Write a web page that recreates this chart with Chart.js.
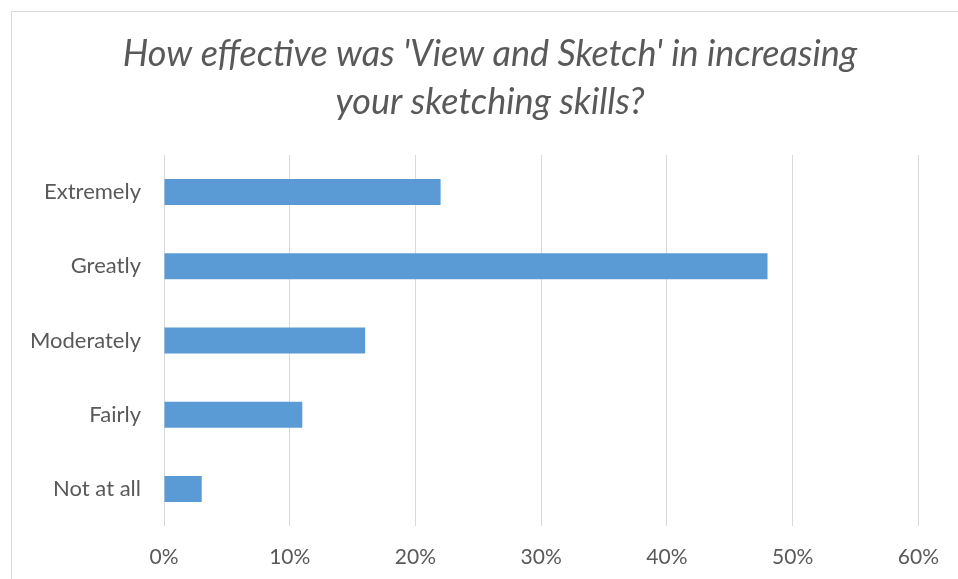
<!DOCTYPE html>
<html>
<head>
<meta charset="utf-8">
<script src="https://cdn.jsdelivr.net/npm/chart.js@4"></script>
<style>
  html, body { margin: 0; padding: 0; background: #fff; }
  #wrap { position: relative; width: 958px; height: 579px; }
</style>
</head>
<body>
<div id="wrap"><canvas id="chart"></canvas></div>
<script>
const categories = ['Extremely', 'Greatly', 'Moderately', 'Fairly', 'Not at all'];
const shares = [22, 48, 16, 11, 3];      // percent of answers
const titleLines = ["How effective was 'View and Sketch' in increasing", 'your sketching skills?'];

const textColor = '#595959';
const gridColor = '#d9d9d9';
const fontFamily = 'Lato, "Open Sans", sans-serif';

// thin frame around the chart object, runs off the right and bottom edges
const frame = {
    id: 'frame',
    afterLayout(chart) {
        // centre the title on the frame rather than the canvas
        if (chart.titleBlock) chart.titleBlock.left = 59;
    },
    beforeDraw(chart) {
        const ctx = chart.ctx;
        ctx.save();
        ctx.strokeStyle = gridColor;
        ctx.lineWidth = 1;
        ctx.strokeRect(11.5, 11.5, chart.width + 20, chart.height + 20);
        ctx.restore();
    }
};

const ctx = document.getElementById('chart').getContext('2d');
new Chart(ctx, {
    type: 'bar',
    data: {
        labels: categories,
        datasets: [{
            data: shares,
            backgroundColor: '#5b9bd5',
            borderWidth: 0,
            categoryPercentage: 1,
            barPercentage: 0.35
        }]
    },
    options: {
        indexAxis: 'y',
        responsive: true,
        maintainAspectRatio: false,
        animation: false,
        layout: { padding: { left: 0, right: 37, top: 0, bottom: 0 } },
        plugins: {
            legend: { display: false },
            tooltip: { enabled: false },
            title: {
                display: true,
                text: titleLines,
                color: textColor,
                font: { family: fontFamily, size: 36, style: 'italic', weight: 'normal', lineHeight: 1.333 },
                padding: { top: 30, bottom: 29 }
            }
        },
        scales: {
            x: {
                min: 0,
                max: 60,
                ticks: {
                    stepSize: 10,
                    color: textColor,
                    font: { family: fontFamily, size: 21 },
                    padding: 19,
                    callback: v => v + '%'
                },
                grid: { color: gridColor, lineWidth: 1, drawTicks: false },
                border: { display: false },
                afterFit: s => { s.height = 53; }
            },
            y: {
                ticks: {
                    color: textColor,
                    font: { family: fontFamily, size: 22 },
                    padding: 23
                },
                grid: { display: false, drawTicks: false },
                border: { display: false },
                afterFit: s => { s.width = 164; }
            }
        }
    },
    plugins: [frame]
});
</script>
</body>
</html>
